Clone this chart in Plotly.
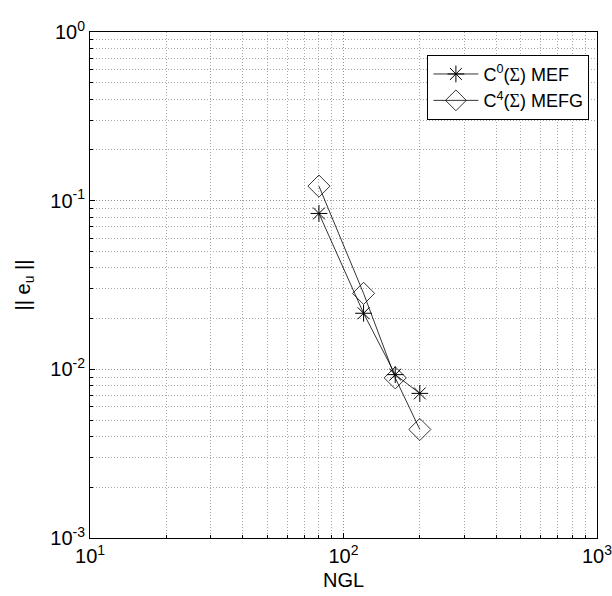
import plotly.graph_objects as go

ngl = [80, 120, 160, 200]
err_mef = [0.084, 0.0215, 0.0093, 0.0072]
err_mefg = [0.122, 0.0282, 0.0089, 0.0044]

xticks = [10, 100, 1000]
xticktext = ["10<sup>1</sup>", "10<sup>2</sup>", "10<sup>3</sup>"]
xminor = [20, 30, 40, 50, 60, 70, 80, 90, 200, 300, 400, 500, 600, 700, 800, 900]
yticks = [0.001, 0.01, 0.1, 1]
yticktext = ["10<sup>-3</sup>", "10<sup>-2</sup>", "10<sup>-1</sup>", "10<sup>0</sup>"]
yminor = [0.002, 0.003, 0.004, 0.005, 0.006, 0.007, 0.008, 0.009,
          0.02, 0.03, 0.04, 0.05, 0.06, 0.07, 0.08, 0.09,
          0.2, 0.3, 0.4, 0.5, 0.6, 0.7, 0.8, 0.9]

font = "Arial, Liberation Sans, sans-serif"

fig = go.Figure()
fig.add_trace(go.Scatter(
    x=ngl, y=err_mef, mode="lines+markers",
    name="C<sup>0</sup>(<span style='font-family:Liberation Serif'>Σ</span>) MEF",
    line=dict(color="black", width=0.8),
    marker=dict(symbol="asterisk-open", size=14, line=dict(color="black", width=1), color="black"),
))
fig.add_trace(go.Scatter(
    x=ngl, y=err_mefg, mode="lines+markers",
    name="C<sup>4</sup>(<span style='font-family:Liberation Serif'>Σ</span>) MEFG",
    line=dict(color="black", width=0.8),
    marker=dict(symbol="diamond-open", size=17, line=dict(color="black", width=0.8), color="black"),
))

def axis_common(minor_vals):
    return dict(
        type="log", showline=True, linecolor="black", linewidth=1, mirror=True,
        ticks="inside", ticklen=5, tickcolor="black",
        showgrid=True, gridcolor="#909090", griddash="1px,2px", gridwidth=1,
        minor=dict(tickmode="array", tickvals=minor_vals,
                   showgrid=True, gridcolor="#a8a8a8", griddash="1px,2px", gridwidth=1,
                   ticks="inside", ticklen=3, tickcolor="black"),
        tickfont=dict(family=font, size=20, color="black"),
        ticklabeloverflow="allow",
        automargin=False,
        zeroline=False,
    )

fig.update_xaxes(range=[0.9999, 3.0001], tickvals=xticks, ticktext=xticktext,
                 title=dict(text="NGL", font=dict(family=font, size=20, color="black"), standoff=6),
                 **axis_common(xminor))
fig.update_yaxes(range=[-3.0001, 0.0001], tickvals=yticks, ticktext=yticktext,
                 title=dict(text="|| e<sub>u</sub> ||", font=dict(family=font, size=20, color="black"), standoff=14),
                 **axis_common(yminor))

fig.update_layout(
    width=612, height=596,
    margin=dict(l=90, r=15, t=32, b=58),
    paper_bgcolor="white", plot_bgcolor="white",
    showlegend=True,
    legend=dict(x=0.985, y=0.955, xanchor="right", yanchor="top",
                bgcolor="white", bordercolor="black", borderwidth=1,
                itemwidth=45,
                font=dict(family=font, size=18, color="black")),
)

fig.write_html("out.html")
